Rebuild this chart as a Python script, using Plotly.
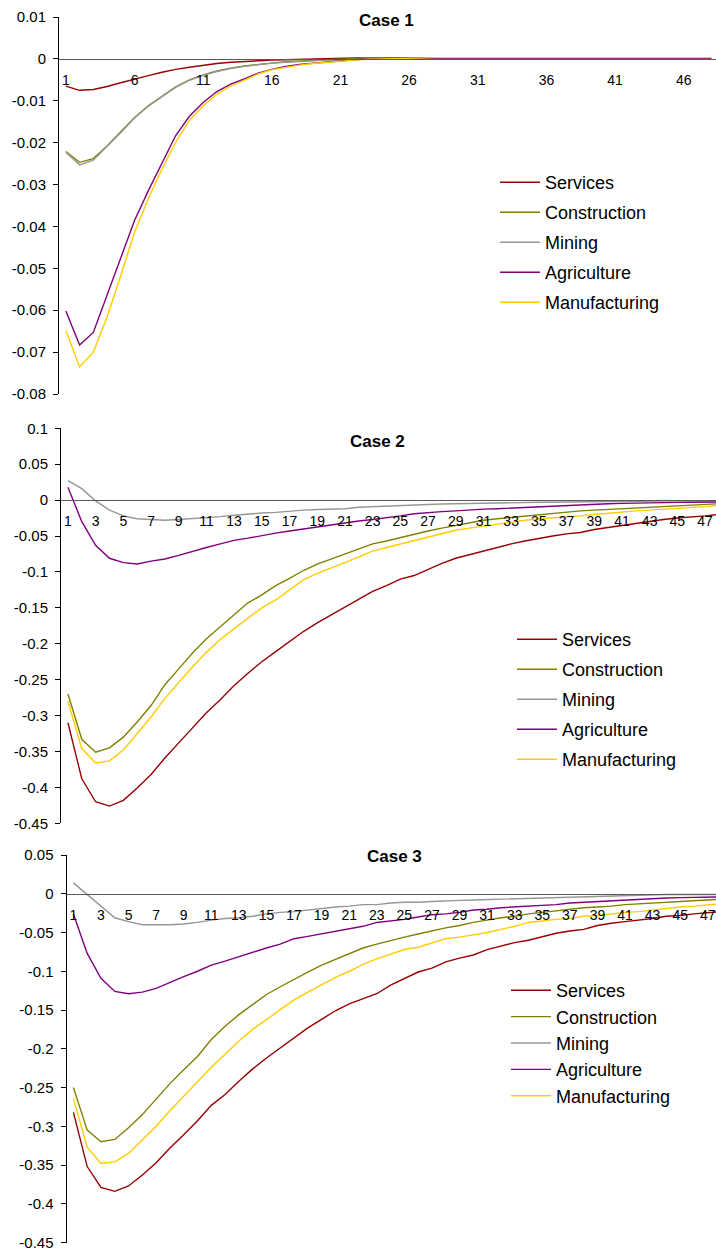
import plotly.graph_objects as go

W, H = 716, 1251
FONT = "Liberation Sans"

periods = list(range(1, 49))
sectors = ["Services", "Construction", "Mining", "Agriculture", "Manufacturing"]
colors = ["#990000", "#808000", "#969696", "#800080", "#FFCC00"]

# ---- Case 1 ----
c1_services = [-0.0065, -0.0075, -0.0073, -0.0066, -0.0057, -0.0048, -0.0040, -0.0032, -0.0025, -0.0020,
               -0.0015, -0.0011, -0.0008, -0.0006, -0.0004, -0.0003, -0.0002, -0.0001, 0.0000, 0.0001,
               0.0001, 0.0002, 0.0002, 0.0002, 0.0002, 0.0002, 0.0002, 0.0002, 0.0002, 0.0002,
               0.0002, 0.0002, 0.0002, 0.0001, 0.0001, 0.0001, 0.0001, 0.0001, 0.0001, 0.0001,
               0.0001, 0.0001, 0.0001, 0.0001, 0.0001, 0.0001, 0.0001, 0.0001]
c1_construction = [-0.0221, -0.0247, -0.0238, -0.0208, -0.0174, -0.0140, -0.0112, -0.0089, -0.0067, -0.0050,
                   -0.0038, -0.0029, -0.0022, -0.0017, -0.0013, -0.0010, -0.0007, -0.0005, -0.0003, -0.0002,
                   -0.0001, 0.0001, 0.0002, 0.0002, 0.0003, 0.0003, 0.0003, 0.0002, 0.0002, 0.0002,
                   0.0002, 0.0002, 0.0002, 0.0002, 0.0002, 0.0002, 0.0002, 0.0002, 0.0002, 0.0002,
                   0.0002, 0.0002, 0.0002, 0.0002, 0.0002, 0.0002, 0.0002, 0.0002]
c1_mining = [-0.0223, -0.0253, -0.0242, -0.0210, -0.0176, -0.0141, -0.0113, -0.0090, -0.0068, -0.0051,
             -0.0039, -0.0030, -0.0023, -0.0018, -0.0014, -0.0010, -0.0008, -0.0006, -0.0004, -0.0003,
             -0.0002, -0.0001, 0.0000, 0.0000, 0.0000, 0.0000, 0.0000, 0.0000, 0.0000, 0.0000,
             0.0000, 0.0000, 0.0000, 0.0000, 0.0000, 0.0000, 0.0000, 0.0000, 0.0000, 0.0000,
             0.0000, 0.0000, 0.0000, 0.0000, 0.0000, 0.0000, 0.0000, 0.0000]
c1_agriculture = [-0.0602, -0.0683, -0.0653, -0.0565, -0.0475, -0.0386, -0.0315, -0.0247, -0.0183, -0.0137,
                  -0.0104, -0.0078, -0.0060, -0.0048, -0.0034, -0.0025, -0.0018, -0.0013, -0.0010, -0.0007,
                  -0.0005, -0.0002, 0.0000, 0.0001, 0.0001, 0.0001, 0.0001, 0.0001, 0.0001, 0.0001,
                  0.0001, 0.0001, 0.0001, 0.0001, 0.0001, 0.0001, 0.0001, 0.0001, 0.0001, 0.0001,
                  0.0001, 0.0001, 0.0001, 0.0001, 0.0001, 0.0001, 0.0001, 0.0001]
c1_manufacturing = [-0.0649, -0.0735, -0.0700, -0.0616, -0.0517, -0.0414, -0.0334, -0.0263, -0.0199, -0.0147,
                    -0.0112, -0.0084, -0.0065, -0.0050, -0.0036, -0.0026, -0.0020, -0.0015, -0.0011, -0.0008,
                    -0.0006, -0.0003, -0.0001, 0.0000, 0.0001, 0.0002, 0.0002, 0.0003, 0.0003, 0.0003,
                    0.0003, 0.0003, 0.0003, 0.0003, 0.0003, 0.0003, 0.0003, 0.0003, 0.0003, 0.0003,
                    0.0003, 0.0003, 0.0003, 0.0003, 0.0003, 0.0003, 0.0003, 0.0003]

# ---- Case 2 ----
c2_services = [-0.310, -0.388, -0.420, -0.426, -0.418, -0.401, -0.382, -0.359, -0.338, -0.317,
               -0.296, -0.278, -0.258, -0.241, -0.225, -0.211, -0.197, -0.183, -0.171, -0.160,
               -0.148, -0.138, -0.127, -0.119, -0.110, -0.105, -0.096, -0.088, -0.081, -0.076,
               -0.071, -0.065, -0.061, -0.057, -0.053, -0.050, -0.047, -0.045, -0.041, -0.038,
               -0.035, -0.033, -0.030, -0.027, -0.025, -0.024, -0.022, -0.020]
c2_construction = [-0.270, -0.333, -0.351, -0.345, -0.330, -0.309, -0.286, -0.257, -0.235, -0.213,
                   -0.193, -0.176, -0.160, -0.143, -0.132, -0.119, -0.109, -0.098, -0.089, -0.082,
                   -0.075, -0.068, -0.061, -0.057, -0.052, -0.047, -0.043, -0.039, -0.035, -0.031,
                   -0.028, -0.026, -0.024, -0.022, -0.020, -0.018, -0.017, -0.015, -0.014, -0.013,
                   -0.012, -0.011, -0.010, -0.008, -0.007, -0.007, -0.006, -0.005]
c2_mining = [0.027, 0.016, -0.001, -0.014, -0.022, -0.026, -0.027, -0.028, -0.027, -0.026,
             -0.024, -0.023, -0.021, -0.019, -0.018, -0.017, -0.015, -0.014, -0.013, -0.0125,
             -0.012, -0.010, -0.009, -0.008, -0.007, -0.006, -0.006, -0.0055, -0.005, -0.0045,
             -0.004, -0.004, -0.0035, -0.003, -0.003, -0.003, -0.0025, -0.0025, -0.002, -0.002,
             -0.002, -0.0015, -0.0015, -0.0015, -0.001, -0.001, -0.001, -0.001]
c2_agriculture = [0.018, -0.030, -0.063, -0.081, -0.087, -0.089, -0.085, -0.082, -0.077, -0.071,
                  -0.066, -0.061, -0.056, -0.053, -0.049, -0.046, -0.043, -0.040, -0.037, -0.034,
                  -0.031, -0.029, -0.027, -0.025, -0.022, -0.019, -0.017, -0.016, -0.015, -0.0135,
                  -0.0125, -0.012, -0.011, -0.010, -0.009, -0.008, -0.007, -0.006, -0.0056, -0.005,
                  -0.0046, -0.004, -0.0037, -0.0035, -0.0032, -0.003, -0.0028, -0.0025]
c2_manufacturing = [-0.280, -0.346, -0.366, -0.363, -0.348, -0.325, -0.302, -0.276, -0.254, -0.232,
                    -0.212, -0.194, -0.179, -0.164, -0.150, -0.139, -0.125, -0.111, -0.102, -0.095,
                    -0.087, -0.079, -0.071, -0.066, -0.061, -0.057, -0.052, -0.047, -0.042, -0.039,
                    -0.036, -0.033, -0.031, -0.028, -0.026, -0.025, -0.024, -0.022, -0.020, -0.018,
                    -0.017, -0.015, -0.014, -0.013, -0.012, -0.010, -0.009, -0.007]

# ---- Case 3 ----
c3_services = [-0.282, -0.352, -0.379, -0.384, -0.377, -0.363, -0.347, -0.328, -0.311, -0.293,
               -0.273, -0.259, -0.242, -0.226, -0.212, -0.199, -0.185, -0.173, -0.162, -0.151,
               -0.142, -0.135, -0.129, -0.118, -0.109, -0.101, -0.096, -0.088, -0.083, -0.079,
               -0.072, -0.067, -0.063, -0.060, -0.055, -0.051, -0.048, -0.046, -0.041, -0.038,
               -0.036, -0.034, -0.032, -0.029, -0.028, -0.026, -0.024, -0.023]
c3_construction = [-0.250, -0.305, -0.320, -0.317, -0.302, -0.285, -0.265, -0.245, -0.227, -0.210,
                   -0.188, -0.171, -0.156, -0.143, -0.130, -0.120, -0.110, -0.101, -0.092, -0.085,
                   -0.078, -0.070, -0.065, -0.060, -0.056, -0.052, -0.048, -0.044, -0.041, -0.037,
                   -0.034, -0.031, -0.029, -0.026, -0.024, -0.022, -0.020, -0.018, -0.017, -0.016,
                   -0.014, -0.013, -0.012, -0.011, -0.010, -0.009, -0.008, -0.007]
c3_mining = [0.014, -0.001, -0.016, -0.031, -0.036, -0.040, -0.040, -0.040, -0.039, -0.037,
             -0.034, -0.032, -0.031, -0.029, -0.026, -0.024, -0.023, -0.021, -0.019, -0.017,
             -0.016, -0.014, -0.014, -0.012, -0.011, -0.011, -0.010, -0.009, -0.0085, -0.008,
             -0.0075, -0.007, -0.0065, -0.006, -0.0055, -0.005, -0.0045, -0.004, -0.0035, -0.003,
             -0.0025, -0.0015, -0.0012, -0.001, -0.001, -0.001, -0.001, -0.001]
c3_agriculture = [-0.026, -0.077, -0.109, -0.126, -0.129, -0.127, -0.122, -0.114, -0.107, -0.100,
                  -0.092, -0.087, -0.081, -0.075, -0.070, -0.065, -0.058, -0.055, -0.052, -0.049,
                  -0.045, -0.042, -0.037, -0.035, -0.033, -0.030, -0.027, -0.026, -0.024, -0.021,
                  -0.020, -0.018, -0.017, -0.016, -0.015, -0.014, -0.012, -0.011, -0.010, -0.009,
                  -0.008, -0.007, -0.006, -0.0055, -0.005, -0.0045, -0.004, -0.004]
c3_manufacturing = [-0.264, -0.327, -0.348, -0.346, -0.335, -0.318, -0.300, -0.280, -0.261, -0.242,
                    -0.224, -0.207, -0.190, -0.175, -0.162, -0.149, -0.137, -0.127, -0.117, -0.108,
                    -0.100, -0.091, -0.084, -0.078, -0.072, -0.069, -0.064, -0.058, -0.056, -0.053,
                    -0.050, -0.046, -0.042, -0.037, -0.035, -0.033, -0.032, -0.029, -0.028, -0.026,
                    -0.024, -0.023, -0.021, -0.019, -0.017, -0.016, -0.014, -0.013]

# ---- tick labels ----
x1_ticks = [1, 6, 11, 16, 21, 26, 31, 36, 41, 46]
x23_ticks = [1, 3, 5, 7, 9, 11, 13, 15, 17, 19, 21, 23, 25, 27, 29, 31, 33, 35, 37, 39, 41, 43, 45, 47]
y1_ticks = [0.01, 0, -0.01, -0.02, -0.03, -0.04, -0.05, -0.06, -0.07, -0.08]
y1_labels = ["0.01", "0", "-0.01", "-0.02", "-0.03", "-0.04", "-0.05", "-0.06", "-0.07", "-0.08"]
y2_ticks = [0.1, 0.05, 0, -0.05, -0.1, -0.15, -0.2, -0.25, -0.3, -0.35, -0.4, -0.45]
y2_labels = ["0.1", "0.05", "0", "-0.05", "-0.1", "-0.15", "-0.2", "-0.25", "-0.3", "-0.35", "-0.4", "-0.45"]
y3_ticks = [0.05, 0, -0.05, -0.1, -0.15, -0.2, -0.25, -0.3, -0.35, -0.4, -0.45]
y3_labels = ["0.05", "0", "-0.05", "-0.1", "-0.15", "-0.2", "-0.25", "-0.3", "-0.35", "-0.4", "-0.45"]

# panel geometry in page pixels
cases = [
    dict(title="Case 1", series=[c1_services, c1_construction, c1_mining, c1_agriculture, c1_manufacturing],
         yrange=(-0.08, 0.01), yticks=y1_ticks, ylabels=y1_labels, xticks=x1_ticks,
         left=59, top=17, bottom=394, step=13.73, title_xy=(386, 20),
         legend_xy=(495, 164), groupgap=3.6),
    dict(title="Case 2", series=[c2_services, c2_construction, c2_mining, c2_agriculture, c2_manufacturing],
         yrange=(-0.45, 0.1), yticks=y2_ticks, ylabels=y2_labels, xticks=x23_ticks,
         left=61, top=428.3, bottom=823.3, step=13.85, title_xy=(377, 441),
         legend_xy=(512, 621), groupgap=3.6),
    dict(title="Case 3", series=[c3_services, c3_construction, c3_mining, c3_agriculture, c3_manufacturing],
         yrange=(-0.45, 0.05), yticks=y3_ticks, ylabels=y3_labels, xticks=x23_ticks,
         left=66.5, top=855, bottom=1242.5, step=13.79, title_xy=(394, 856),
         legend_xy=(506, 972), groupgap=0),
]

fig = go.Figure()
layout = dict(
    width=W, height=H,
    margin=dict(l=0, r=0, t=0, b=0, autoexpand=False),
    paper_bgcolor="white", plot_bgcolor="white",
    font=dict(family=FONT, color="black"),
    showlegend=True,
    annotations=[],
)

for i, case in enumerate(cases, start=1):
    sfx = "" if i == 1 else str(i)
    legend_id = "legend" if i == 1 else f"legend{i}"
    for name, color, values in zip(sectors, colors, case["series"]):
        fig.add_trace(go.Scatter(
            x=periods, y=values, name=name, mode="lines",
            line=dict(color=color, width=1.4),
            xaxis=f"x{sfx}", yaxis=f"y{sfx}",
            legend=legend_id, legendgroup=f"{case['title']}-{name}",
        ))

    ymin, ymax = case["yrange"]
    top, bottom = case["top"], case["bottom"]
    zero_px = top + (ymax - 0) / (ymax - ymin) * (bottom - top)
    x_end = 0.5 + (W - case["left"]) / case["step"]

    layout[f"xaxis{sfx}"] = dict(
        domain=[case["left"] / W, 1], range=[0.5, x_end],
        anchor="free", position=1 - zero_px / H,
        showline=True, linecolor="#595959", linewidth=1,
        ticks="outside", ticklen=8, tickcolor="rgba(0,0,0,0)",
        tickmode="array", tickvals=case["xticks"],
        tickfont=dict(size=14, family=FONT, color="black"),
        showgrid=False, zeroline=False, fixedrange=True, automargin=False,
        ticklabeloverflow="allow",
    )
    layout[f"yaxis{sfx}"] = dict(
        domain=[1 - bottom / H, 1 - top / H], range=[ymin, ymax],
        anchor=f"x{sfx}",
        showline=True, linecolor="black", linewidth=1,
        ticks="outside", ticklen=5, tickcolor="black",
        tickmode="array", tickvals=case["yticks"], ticktext=case["ylabels"],
        tickfont=dict(size=15, family=FONT, color="black"),
        ticklabelstandoff=4, ticklabeloverflow="allow",
        showgrid=False, zeroline=False, fixedrange=True, automargin=False,
    )
    lx, ly = case["legend_xy"]
    layout[legend_id] = dict(
        x=lx / W, y=1 - ly / H, xanchor="left", yanchor="top",
        font=dict(size=18, family=FONT, color="black"),
        itemwidth=40, tracegroupgap=case["groupgap"],
        bgcolor="rgba(0,0,0,0)", borderwidth=0,
    )
    tx, ty = case["title_xy"]
    layout["annotations"].append(dict(
        text=f"<b>{case['title']}</b>", x=tx / W, y=1 - ty / H,
        xref="paper", yref="paper", xanchor="center", yanchor="middle",
        showarrow=False, font=dict(size=17, family=FONT, color="black"),
    ))

fig.update_layout(**layout)
fig.write_html("out.html")
